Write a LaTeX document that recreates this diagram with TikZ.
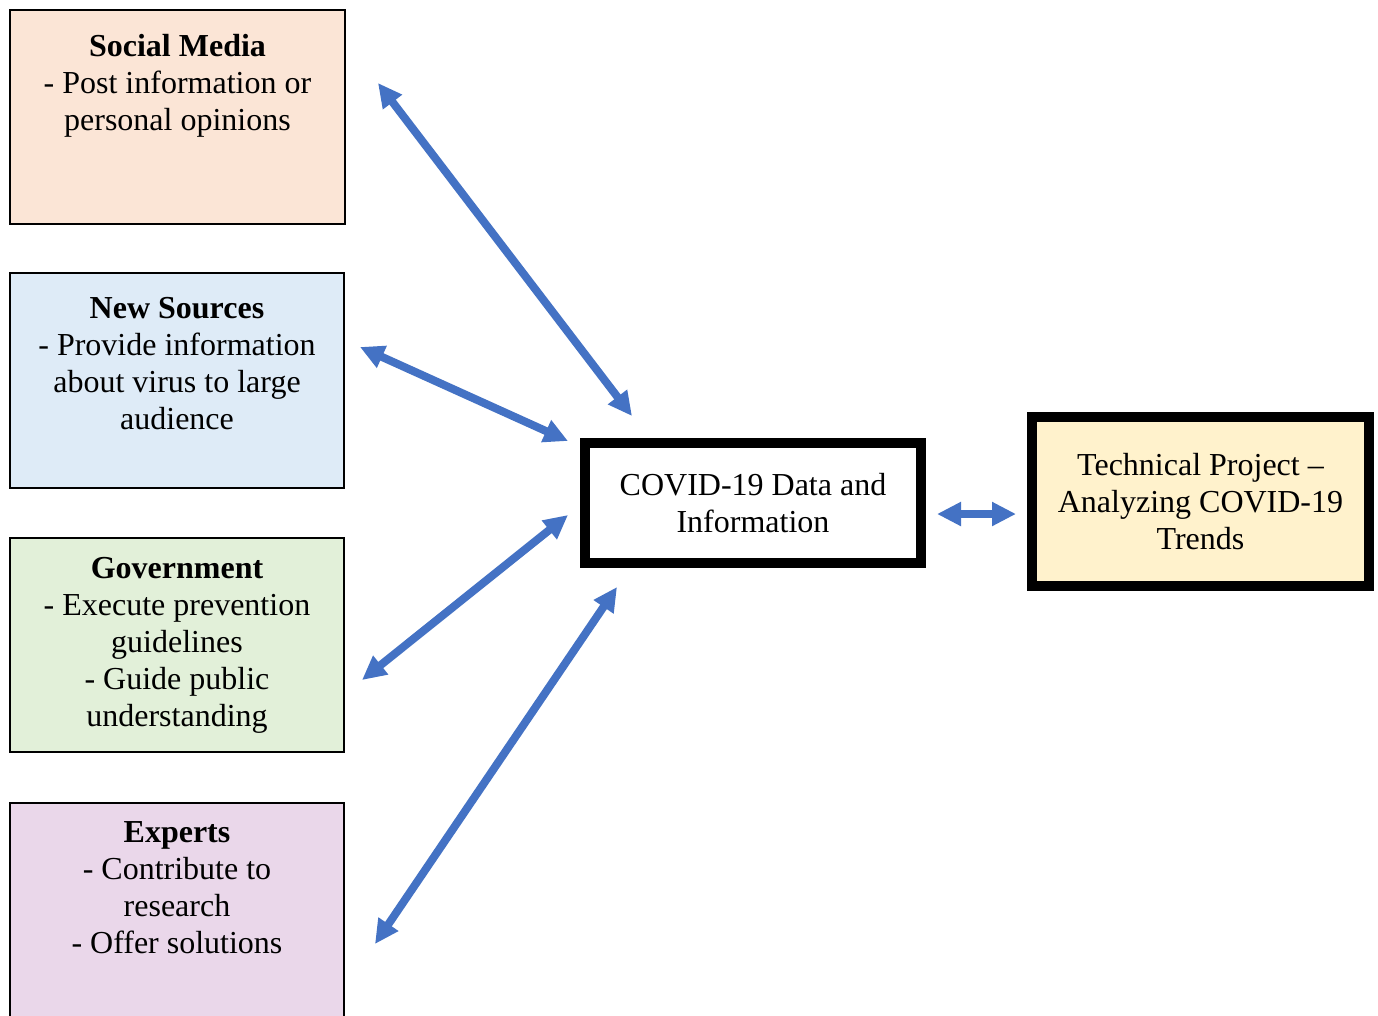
\documentclass[tikz,border=0pt]{standalone}
\usepackage{fontspec}
\setmainfont{Liberation Serif}
\usetikzlibrary{arrows.meta}
\definecolor{peach}{HTML}{FBE5D6}
\definecolor{paleblue}{HTML}{DEEBF7}
\definecolor{palegreen}{HTML}{E2F0D9}
\definecolor{palelilac}{HTML}{EAD7EA}
\definecolor{paleyellow}{HTML}{FFF2CC}
\definecolor{linkblue}{HTML}{4472C4}
\begin{document}
\begin{tikzpicture}[x=0.75pt,y=-0.75pt,
  srcbox/.style={draw=black, line width=1.8pt, inner sep=0pt, outer sep=0pt},
  mainbox/.style={draw=black, line width=7.5pt, inner sep=0pt, outer sep=0pt,
    align=center, font=\fontsize{24pt}{27.75pt}\selectfont},
  srctext/.style={align=center, inner sep=0pt, anchor=north,
    font=\fontsize{24pt}{27.75pt}\selectfont},
  link/.style={draw=linkblue, line width=6pt,
    {Triangle[length=18pt,width=17pt]}-{Triangle[length=18pt,width=17pt]}}
]
\clip (0,0) rectangle (1378,1015);
\fill[white] (0,0) rectangle (1378,1015);

% source boxes on the left
\node[srcbox, fill=peach, minimum width=251.25pt, minimum height=160.5pt] (sm) at (177.5,117) {};
\node[srcbox, fill=paleblue, minimum width=250.5pt, minimum height=161.25pt] (ns) at (177,380.5) {};
\node[srcbox, fill=palegreen, minimum width=250.5pt, minimum height=160.5pt] (gov) at (177,645) {};
\node[srcbox, fill=palelilac, minimum width=250.5pt, minimum height=170.25pt] (exp) at (177,916.5) {};

\node[srctext] (smt) at ([yshift=-18pt]sm.north) {\textbf{Social Media}\\- Post information or\\personal opinions};
\node[srctext] (nst) at ([yshift=-18pt]ns.north) {\textbf{New Sources}\\- Provide information\\about virus to large\\audience};
\node[srctext] (govt) at ([yshift=-14.5pt]gov.north) {\textbf{Government}\\- Execute prevention\\guidelines\\- Guide public\\understanding};
\node[srctext] (expt) at ([yshift=-14pt]exp.north) {\textbf{Experts}\\- Contribute to\\research\\- Offer solutions};

% central hub and project box
\node[mainbox, fill=white, minimum width=252pt, minimum height=90pt] (covid) at (753,503) {COVID-19 Data and\\Information};
\node[mainbox, fill=paleyellow, minimum width=252.75pt, minimum height=126.75pt] (tech) at (1200.5,501.5) {Technical Project --\\Analyzing COVID-19\\Trends};

% arrow end points
\coordinate (smA) at (378,83);
\coordinate (smB) at (632,416);
\coordinate (nsA) at (360,347);
\coordinate (nsB) at (568,441);
\coordinate (govA) at (362,680);
\coordinate (govB) at (568,515);
\coordinate (expA) at (375,944);
\coordinate (expB) at (617,587);
\coordinate (cvA) at (937,514);
\coordinate (cvB) at (1016,514);

\draw[link] (smA) -- (smB);
\draw[link] (nsA) -- (nsB);
\draw[link] (govA) -- (govB);
\draw[link] (expA) -- (expB);
\draw[link] (cvA) -- (cvB);
\end{tikzpicture}
\end{document}
